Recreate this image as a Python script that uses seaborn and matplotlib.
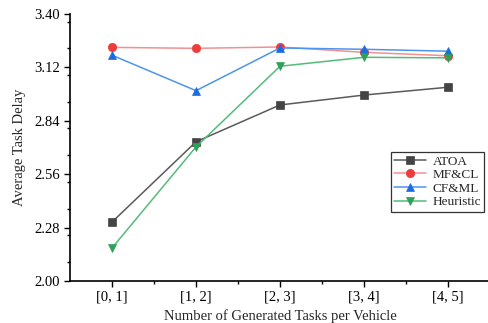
import matplotlib
matplotlib.use("Agg")
import matplotlib.pyplot as plt
from matplotlib.ticker import MultipleLocator, FixedLocator
import seaborn as sns
import pandas as pd

categories = ["[0, 1]", "[1, 2]", "[2, 3]", "[3, 4]", "[4, 5]"]
atoa = [2.309, 2.730, 2.923, 2.975, 3.016]
mfcl = [3.225, 3.220, 3.227, 3.199, 3.181]
cfml = [3.184, 2.998, 3.222, 3.215, 3.205]
heuristic = [2.173, 2.703, 3.126, 3.173, 3.170]
y_ticks = [2.00, 2.28, 2.56, 2.84, 3.12, 3.40]

series = [
    ("ATOA", atoa, "s", "#5a5a5a", "#444444"),
    ("MF&CL", mfcl, "o", "#f39090", "#ee3b3b"),
    ("CF&ML", cfml, "^", "#4d94ee", "#1a6de0"),
    ("Heuristic", heuristic, "v", "#55bb7a", "#2f9f5a"),
]

sns.set_theme(style="white")
plt.rcParams["font.family"] = ["Liberation Serif", "DejaVu Serif"]

fig = plt.figure(figsize=(4.89, 3.23), dpi=100)
ax = fig.add_axes([70 / 489, 42 / 323, 420 / 489, 267 / 323])

x_pos = list(range(len(categories)))
for name, vals, mk, lc, mc in series:
    df = pd.DataFrame({"x": x_pos, "y": vals})
    sns.lineplot(data=df, x="x", y="y", ax=ax, color=lc, linewidth=1.1,
                 marker=mk, markersize=6, markerfacecolor=mc,
                 markeredgecolor=mc, markeredgewidth=0.5, label=name)

ax.set_xlim(-0.5, 4.5)
ax.set_ylim(2.00, 3.40)
ax.xaxis.set_major_locator(FixedLocator(x_pos))
ax.set_xticklabels(categories)
ax.xaxis.set_minor_locator(FixedLocator([0.5, 1.5, 2.5, 3.5]))
ax.set_yticks(y_ticks)
ax.set_yticklabels([f"{v:.2f}" for v in y_ticks])
ax.yaxis.set_minor_locator(MultipleLocator(0.14))

ax.tick_params(which="major", direction="out", length=4, width=1,
               labelsize=10.5, color="black", labelcolor="black",
               bottom=True, left=True, pad=3)
ax.tick_params(which="minor", direction="out", length=2, width=1,
               color="black", bottom=True, left=True)

for side in ["top", "right"]:
    ax.spines[side].set_visible(False)
for side in ["left", "bottom"]:
    ax.spines[side].set_color("black")
    ax.spines[side].set_linewidth(1.2)

ax.set_xlabel("Number of Generated Tasks per Vehicle", fontsize=10.5, labelpad=4)
ax.set_ylabel("Average Task Delay", fontsize=10.5, labelpad=6)

leg = ax.legend(loc="upper left", bbox_to_anchor=(321 / 420, 129 / 267),
                fontsize=9.5, frameon=True, fancybox=False, handlelength=2.4,
                borderpad=0.25, labelspacing=0.1, handletextpad=0.5,
                borderaxespad=0)
leg.get_frame().set_edgecolor("black")
leg.get_frame().set_linewidth(0.9)

fig.savefig("out.png", dpi=100)
